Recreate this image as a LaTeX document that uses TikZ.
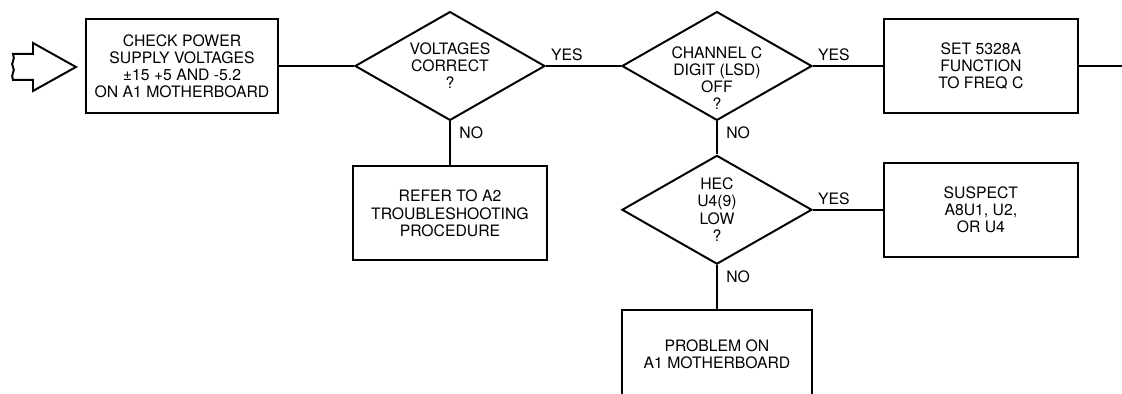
\documentclass[tikz,border=0pt]{standalone}
\usepackage{fontspec}
\setmainfont{TeX Gyre Heros}
\usetikzlibrary{positioning,shapes.geometric}
\newcommand{\dtext}[2][-4.4pt]{\raisebox{#1}[0pt][0pt]{\begin{tabular}{@{}c@{}}#2\end{tabular}}}

\begin{document}
\begin{tikzpicture}[
    font=\fontsize{11.2}{12.2}\selectfont,
    stepbox/.style={draw=black, rectangle, minimum width=4.85cm, minimum height=2.35cm, align=center, line width=1.4pt, inner sep=2pt},
    decision/.style={draw=black, diamond, minimum width=4.75cm, minimum height=2.72cm, line width=1.4pt, inner sep=0pt},
    flow/.style={draw=black, line width=1.4pt},
    yeslabel/.style={anchor=south west, inner sep=3pt},
    nolabel/.style={anchor=north west, inner sep=3pt, xshift=3pt}
  ]
    \useasboundingbox (0,0) rectangle (28.05,-9.85);
    \begin{scope}[x=0.025cm, y=-0.025cm]
      \draw[flow, line join=miter] (13,54) -- (33,54) -- (33,43) -- (76,67) coordinate (entry) -- (33,91) -- (33,80) -- (13,80)
        .. controls (10,74) and (16,71) .. (13,67) .. controls (10,63) and (16,60) .. (13,54) -- cycle;
    \end{scope}
    \node[stepbox, minimum width=4.8cm] (check) at (4.55,-1.65) {CHECK POWER \\ SUPPLY VOLTAGES \\ ±15 +5 AND -5.2 \\ ON A1 MOTHERBOARD};
    \node[decision, right=1.875cm of check] (volt) {\dtext{VOLTAGES \\ CORRECT \\ ?}};
    \node[decision, right=1.875cm of volt] (chan) {\dtext[-13pt]{CHANNEL C \\ DIGIT (LSD) \\ OFF \\ ?}};
    \node[stepbox, right=1.75cm of chan] (setfn) {SET 5328A \\ FUNCTION \\ TO FREQ C};
    \coordinate[right=1.25cm of setfn] (exit);
    \node[stepbox, below=1.1cm of volt] (refer) {REFER TO A2 \\ TROUBLESHOOTING \\ PROCEDURE};
    \node[decision, below=0.825cm of chan] (hec) {\dtext{HEC \\ U4(9) \\ LOW \\ ?}};
    \node[stepbox, right=1.75cm of hec] (suspect) {SUSPECT \\ A8U1, U2, \\ OR U4};
    \node[stepbox, minimum width=4.75cm, minimum height=2.2cm, below=1.1cm of hec] (problem) {PROBLEM ON \\ A1 MOTHERBOARD};
    \draw[flow] (check) -- (volt);
    \draw[flow] (volt) -- node[yeslabel, pos=0] {YES} (chan);
    \draw[flow] (chan) -- node[yeslabel, pos=0] {YES} (setfn);
    \draw[flow] (setfn) -- (exit);
    \draw[flow] (volt) -- node[nolabel, pos=0] {NO} (refer);
    \draw[flow] (chan) -- node[nolabel, pos=0] {NO} (hec);
    \draw[flow] (hec) -- node[yeslabel, pos=0] {YES} (suspect);
    \draw[flow] (hec) -- node[nolabel, pos=0] {NO} (problem);
  \end{tikzpicture}
\end{document}
